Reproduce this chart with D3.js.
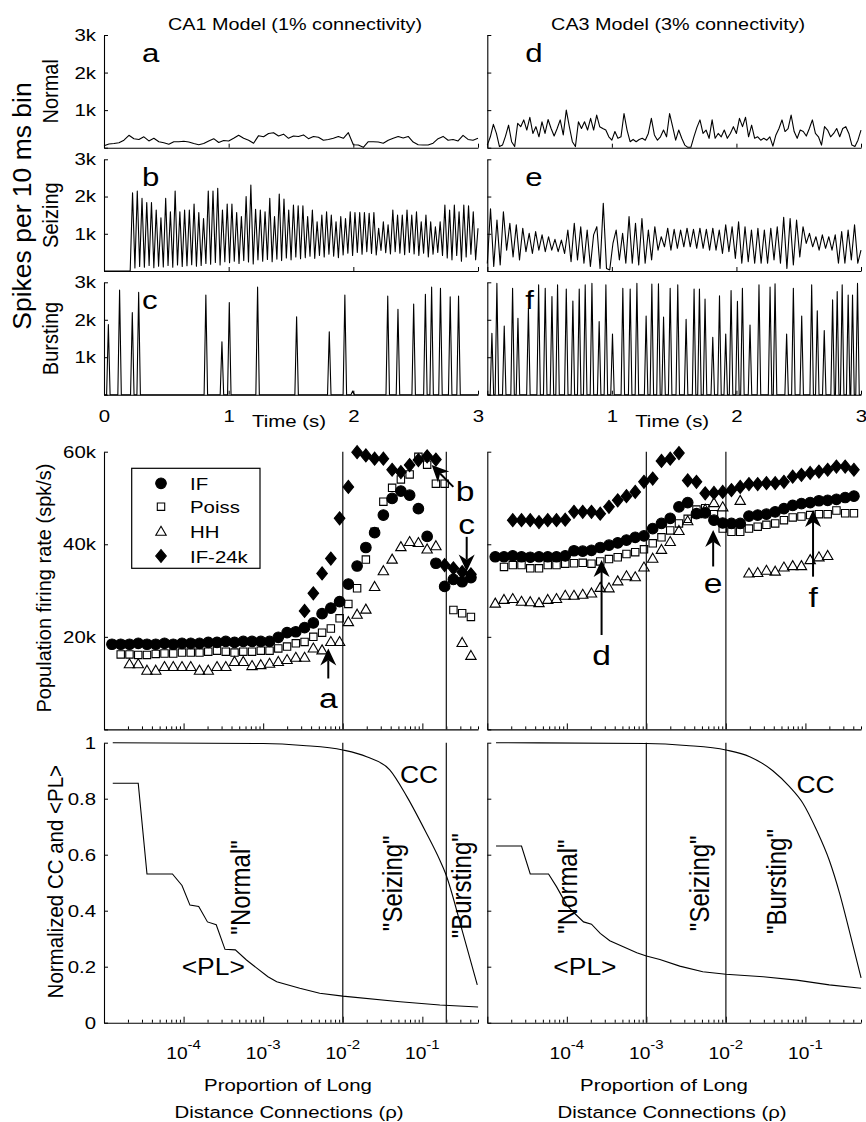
<!DOCTYPE html>
<html>
<head>
<meta charset="utf-8">
<script src="https://cdn.jsdelivr.net/npm/d3@7/dist/d3.min.js"></script>
<style>
  body { margin: 0; background: #fff; }
  svg text { fill: #000; }
</style>
</head>
<body>
<svg id="fig" width="866" height="1122"></svg>
<script>
// ---------- data: spikes per 10 ms bin ----------
// CA1 normal, one value every 40 ms from t = 0
const normalCA1Step = 0.04;
const normalCA1 = [50,100,110,130,200,330,240,220,290,180, 250,160,130,90,160,160,170,150,110,80,
  110,180,240,140,190,180,250,330,250,200, 120,320,290,380,400,310,360,250,310,300,
  340,240,300,280,200,220,250,300,250,400, 80,70,10,160,160,150,120,200,250,300,
  260,300,150,80,70,70,120,240,300,200, 220,180,330,220,200,250];

// CA1 seizing: silent until onset, then alternating peak / trough
const seizingCA1Onset = 0.21;
const seizingCA1Peaks = [2100,2150,1950,1840,1840,1640,1430,1950,1590,2150,
  1590,1640,1640,1800,1570,1410,2150,2150,2220,1640, 1800,1800,1570,1460,2000,2310,1660,1640,1590,1950,
  1460,2070,1930,1640,1770,1750,1750,1460,1640,1320, 1500,1590,1500,1320,1460,1410,1590,1570,1570,1570,
  1550,1570,1150,1320,1240,1640,1500,1500,1640,1500, 1590,1320,1500,1320,1190,1320,1770,1640,1770,1590,
  1770,1750,1590,1150];
const seizingCA1Troughs = [80,120,100,150,90,130,110,150,100,160,120,140,170,130,150,
  200,180,230,160,250,220,260,200,280,240,190,300,260,310,250,
  320,280,350,300,380,330,360,400,340,420,380,450,400,360,430,
  480,420,500,450,520,470,430,550,490,460,520,480,440,500,460,
  420,480,380,450,500,420,350,300,420,260,380,450,300];

// CA1 bursting: [time (s), peak count]
const burstingCA1 = [[0.035,1875],[0.125,2790],[0.227,2190],[0.278,2730],[0.817,2660],[0.946,1410],
  [1.005,2460],[1.232,2870],[1.545,2080],[1.807,1680],[1.932,2660],[1.995,100],[2.276,2630],[2.358,2280],
  [2.484,2420],[2.578,2680],[2.628,2870],[2.699,2840],[2.777,2610],[2.844,2630]];

// CA3 normal / seizing: trace vertices spread evenly over 0-3 s
const normalCA3 = [70,290,620,380,30,70,310,600,160,30, 650,560,740,470,810,380,560,290,690,380,
  750,510,310,510,740,340,1000,560,160,30, 690,510,690,470,780,470,870,560,510,470,
  290,200,430,250,290,910,470,160,220,160, 220,250,200,380,780,340,200,290,470,290,
  910,560,200,470,250,70,10,10,290,540, 740,380,470,250,740,250,380,290,470,250,
  380,560,380,780,560,810,290,600,250,290, 200,250,200,290,40,340,510,740,430,510,
  870,430,250,470,430,310,510,740,380,290, 70,560,470,290,380,510,290,510,560,380, 70,30,200,470];
const seizingCA3 = [200,1670,120,1370,160,1590,560,1280,380,1240, 300,1150,520,1010,470,1060,560,970,520,920,
  560,850,520,830,470,1100,250,1280,300,1190, 210,1100,120,970,1190,70,1820,70,30,740,
  1100,300,1010,210,1460,210,1280,160,1410,210, 1100,300,1190,560,920,650,1150,560,1120,610,
  1100,650,1150,650,1120,610,1150,610,1120,560, 1150,560,1100,470,1240,520,1190,340,1320,210,
  1190,250,1100,210,1150,210,1100,210,1150,300, 1190,210,1440,70,1410,160,1370,380,1190,740,
  1010,650,920,560,970,610,920,560,970,210, 1060,210,1100,300,1240,210,560];
const burstingCA3 = [[0.037,1640],[0.077,2970],[0.136,1830],[0.203,2840],[0.246,2040],[0.33,2300],[0.412,2930],
  [0.465,2840],[0.519,2620],[0.564,2930],[0.634,2820],[0.687,2500],[0.738,2820],[0.786,2930],[0.840,2970],
  [0.898,1950],[0.952,2930],[1.005,1620],[1.088,2840],[1.147,2820],[1.201,2970],[1.275,2100],[1.321,2950],
  [1.374,2960],[1.415,2070],[1.468,2840],[1.529,2930],[1.596,2010],[1.660,2820],[1.703,2820],[1.748,2550],
  [1.810,1530],[1.864,2640],[1.914,1620],[1.957,2780],[2.008,2490],[2.048,2840],[2.109,1860],[2.181,2930],
  [2.270,2870],[2.310,2960],[2.403,1620],[2.457,2840],[2.524,2100],[2.604,2930],[2.649,2240],[2.705,1710],
  [2.772,2530],[2.809,2750],[2.849,2930],[2.897,2660],[2.932,2660],[2.972,2970]];

// ---------- data: population firing rate (k spk/s) vs log10(rho) ----------
const logRho = [-4.90,-4.79,-4.68,-4.57,-4.46,-4.35,-4.24,-4.13,-4.02,-3.91,-3.80,-3.69,-3.58,-3.47,
  -3.36,-3.25,-3.14,-3.03,-2.92,-2.81,-2.70,-2.59,-2.48,-2.37,-2.26,-2.15,-2.04,-1.93,-1.82,-1.71,
  -1.60,-1.49,-1.38,-1.27,-1.16,-1.05,-0.94,-0.83,-0.72,-0.61,-0.50,-0.39];
const _ = null;
const rateIF_CA1 = [18.4,18.4,18.4,18.6,18.4,18.4,18.6,18.4,18.6,18.6, 18.6,18.8,18.8,19.0,18.8,19.0,19.0,19.0,19.0,19.9,
  20.9,21.1,22.0,23.0,25.0,26.2,27.6,31.4,35.3,39.3, 42.5,46.3,49.9,51.5,50.6,47.7,41.7,35.9,30.9,32.4, 31.9,32.8];
const ratePoiss_CA1 = [_,16.2,16.2,16.1,16.1,16.3,16.4,16.4,16.6,16.6, 16.6,16.8,17.0,16.8,16.6,16.8,16.8,17.0,17.0,17.5,
  17.9,18.6,18.9,20.0,20.9,21.8,24.0,27.1,30.5,36.7, 42.7,49.2,52.2,54.0,55.1,58.9,57.2,53.1,53.1,25.8, 25.1,24.3];
const rateHH_CA1 = [_,_,14.1,14.1,12.7,12.7,13.5,13.5,13.5,13.5, 12.7,12.7,13.5,13.5,14.6,14.6,13.7,13.9,14.2,14.6,
  15.0,15.5,15.5,17.5,17.1,18.9,18.9,23.2,24.8,25.9, 30.8,34.2,36.7,39.4,40.5,40.3,38.9,39.6,_,_, 18.7,15.9];
const rateIF24_CA1 = [_,_,_,_,_,_,_,_,_,_, _,_,_,_,_,_,_,_,_,_,
  _,_,25.6,29.4,33.7,36.9,45.6,52.4,59.9,59.2, 58.5,58.5,56.1,55.6,57.1,58.2,59.0,58.3,35.5,34.8, 34.0,33.5];
const rateIF_CA3 = [37.3,37.3,37.5,37.3,37.2,37.3,37.3,37.3,37.5,38.6, 38.5,38.7,39.3,39.8,40.3,40.9,41.5,41.8,43.4,44.5,
  45.6,48.1,49.0,46.6,46.8,45.2,44.6,44.5,44.5,46.1, 46.3,46.5,47.0,47.7,48.4,48.8,49.0,49.4,49.5,49.7, 50.1,50.4];
const ratePoiss_CA3 = [_,35.1,35.5,35.5,34.8,34.8,35.5,35.5,35.8,35.9, 36.0,35.8,36.3,36.8,37.2,37.9,38.3,38.9,40.2,41.5,
  43.0,44.5,45.5,47.5,47.8,46.5,43.4,42.7,42.7,43.4, 43.8,44.2,44.5,45.2,45.8,46.0,46.3,46.5,46.5,47.3, 46.7,46.7];
const rateHH_CA3 = [27.2,28.0,28.2,27.6,27.5,27.3,28.0,28.2,28.9,28.9, 29.1,29.4,30.6,30.5,32.0,33.1,32.9,35.0,36.9,38.8,
  40.5,42.9,45.0,46.5,47.5,48.9,48.0,_,49.4,33.7, 33.8,34.3,34.1,35.0,35.3,35.3,36.6,37.2,37.5,_, _,_];
const rateIF24_CA3 = [_,_,45.2,45.2,45.2,44.8,45.2,45.2,45.3,47.0, 47.0,47.0,46.6,48.1,49.5,50.4,51.3,53.5,54.2,58.0,
  58.5,59.7,53.8,53.5,51.0,51.1,51.3,51.7,52.4,53.0, 53.0,53.2,53.2,53.5,54.6,55.0,55.4,55.7,56.1,56.8, 56.8,56.1];

// ---------- data: normalized CC and <PL>, [log10(rho), value] ----------
const ccCA1 = [[-4.89,1.0],[-3.0,0.997],[-2.5,0.99],[-2.0,0.974],[-1.7,0.95],[-1.41,0.903],[-1.2,0.81],
  [-0.955,0.68],[-0.78,0.58],[-0.71,0.534],[-0.49,0.319],[-0.31,0.135]];
const ccCA3 = [[-4.89,1.0],[-3.0,0.997],[-2.5,0.99],[-2.0,0.974],[-1.7,0.95],[-1.41,0.90],[-1.2,0.843],
  [-1.03,0.783],[-0.86,0.688],[-0.7,0.58],[-0.57,0.462],[-0.44,0.319],[-0.30,0.16]];
const plCA1 = [[-4.89,0.855],[-4.57,0.855],[-4.46,0.531],[-4.14,0.531],[-4.02,0.49],[-3.92,0.42],[-3.81,0.415],
  [-3.70,0.36],[-3.59,0.35],[-3.48,0.262],[-3.35,0.26],[-3.21,0.224],[-3.08,0.195],[-2.94,0.164],[-2.83,0.146],
  [-2.54,0.123],[-2.29,0.105],[-2.0,0.095],[-1.28,0.075],[-0.78,0.063],[-0.30,0.056]];
const plCA3 = [[-4.89,0.631],[-4.57,0.631],[-4.46,0.531],[-4.23,0.531],[-4.13,0.486],[-4.0,0.42],[-3.90,0.39],
  [-3.79,0.36],[-3.69,0.352],[-3.58,0.319],[-3.46,0.293],[-3.29,0.271],[-3.12,0.25],[-3.0,0.238],[-2.83,0.226],
  [-2.58,0.202],[-2.29,0.182],[-2.0,0.173],[-1.53,0.164],[-1.11,0.152],[-0.70,0.135],[-0.30,0.123]];

// regime boundaries (rho)
const boundsCA1 = [1e-2, 0.2];
const boundsCA3 = [1e-3, 1e-2];

const colTitles = ["CA1 Model (1% connectivity)", "CA3 Model (3% connectivity)"];
const rowLabels = ["Normal", "Seizing", "Bursting"];
const letters = [["a", "b", "c"], ["d", "e", "f"]];
const legendNames = ["IF", "Poiss", "HH", "IF-24k"];

// ---------- layout ----------
const FONT = '"Liberation Sans", Arial, Helvetica, sans-serif';
const SX = 1.2;   // the figure is stretched horizontally
const cols = [{ x0: 104, x1: 478 }, { x0: 487.3, x1: 861 }];
const topRows = [{ y0: 35, y1: 147.7 }, { y0: 159.3, y1: 271 }, { y0: 282.3, y1: 394.7 }];
const mid = { y0: 451.7, y1: 729.4 };
const bot = { y0: 742.7, y1: 1022.7 };

const svg = d3.select("#fig").attr("font-family", FONT);

function addText(x, y, s, o = {}) {
  const t = svg.append("text")
    .attr("transform", `translate(${x},${y}) scale(${o.sx || SX},1)` + (o.rotate ? " rotate(-90)" : ""))
    .attr("text-anchor", o.anchor || "middle")
    .attr("font-size", o.size || 17)
    .text(s);
  return t;
}

function styleAxis(g) {
  g.attr("font-family", FONT).attr("font-size", 17);
  g.select(".domain").attr("stroke-width", 1.1);
  g.selectAll(".tick line").attr("stroke-width", 1);
  g.selectAll(".tick text").each(function () {
    const t = d3.select(this);
    const xv = +t.attr("x") || 0;
    t.attr("x", xv / SX).attr("transform", `scale(${SX},1)`);
  });
}

// ---------- top: time series ----------
function spikesToSeries(peaks) {
  const pts = [[0, 0]];
  peaks.forEach(([t, v]) => { pts.push([t - 0.014, 0], [t, v], [t + 0.014, 0]); });
  pts.push([3, 0]);
  return pts;
}
function evenSeries(vals) {
  return vals.map((v, i) => [3 * i / (vals.length - 1), v]);
}
const seizingCA1Step = (3 - seizingCA1Onset) / (2 * seizingCA1Peaks.length - 1);
const seizingCA1Series = [[0, 0], [seizingCA1Onset, 0]];
seizingCA1Peaks.forEach((p, i) => {
  seizingCA1Series.push([seizingCA1Onset + (2 * i + 1) * seizingCA1Step, p]);
  if (i < seizingCA1Troughs.length)
    seizingCA1Series.push([seizingCA1Onset + (2 * i + 2) * seizingCA1Step, seizingCA1Troughs[i]]);
});

const traces = [
  [normalCA1.map((v, i) => [i * normalCA1Step, v]), seizingCA1Series, spikesToSeries(burstingCA1)],
  [evenSeries(normalCA3), evenSeries(seizingCA3), spikesToSeries(burstingCA3)]
];

cols.forEach((c, ci) => {
  const x = d3.scaleLinear().domain([0, 3]).range([c.x0, c.x1]);
  topRows.forEach((r, ri) => {
    const y = d3.scaleLinear().domain([0, 3000]).range([r.y1, r.y0]);
    styleAxis(svg.append("g").attr("transform", `translate(${c.x0},0)`)
      .call(d3.axisLeft(y).tickValues([0, 1000, 2000, 3000]).tickSize(-4).tickSizeOuter(0).tickPadding(8)
        .tickFormat(d => (ci === 0 && d > 0) ? (d / 1000) + "k" : "")));
    styleAxis(svg.append("g").attr("transform", `translate(0,${r.y1})`)
      .call(d3.axisBottom(x).tickValues([0, 1, 2, 3]).tickSize(-4).tickSizeOuter(0).tickPadding(15)
        .tickFormat(d => (ri === 2 && !(ci === 1 && d === 0)) ? d : "")));
    svg.append("path").datum(traces[ci][ri])
      .attr("fill", "none").attr("stroke", "#000").attr("stroke-width", 1.1).attr("stroke-linejoin", "round")
      .attr("d", d3.line().x(d => x(d[0])).y(d => y(d[1])));
    addText(c.x0 + 38, r.y0 + 27, letters[ci][ri], { anchor: "start", size: 26 });
  });
  addText((c.x0 + c.x1) / 2 + 4, 30, colTitles[ci], { size: 16.5 });
  addText(x(1.5) - 2, 427, "Time (s)", { size: 17 });
});
topRows.forEach((r, ri) => addText(58.3, (r.y0 + r.y1) / 2, rowLabels[ri], { rotate: true, size: 20, sx: 1.1 }));
addText(31, 206, "Spikes per 10 ms bin", { rotate: true, size: 26.5, sx: 1.0 });

// ---------- log-axis helpers ----------
const logTicks = [];
for (let e = -5; e <= -1; e++) for (let k = 1; k <= 9; k++) { const v = k * Math.pow(10, e); if (v <= 0.5 + 1e-12) logTicks.push(v); }
const isDecade = v => Math.abs(Math.log10(v) - Math.round(Math.log10(v))) < 1e-9;

function rhoAxis(x, yPos) {
  const g = svg.append("g").attr("transform", `translate(0,${yPos})`)
    .call(d3.axisBottom(x).tickValues(logTicks).tickSize(-3).tickSizeOuter(0).tickFormat(""));
  styleAxis(g);
  g.selectAll(".tick line").filter(d => isDecade(d)).attr("y2", -6);
}

// ---------- marker shapes ----------
const shapes = {
  IF: "M5.3,0A5.3,5.3,0,1,1,-5.3,0A5.3,5.3,0,1,1,5.3,0Z",
  Poiss: "M-3.7,-3.7H3.7V3.7H-3.7Z",
  HH: "M0,-5.4L5.2,3.6L-5.2,3.6Z",
  "IF-24k": "M0,-6.5L5.3,0L0,6.5L-5.3,0Z"
};
const filled = { IF: true, Poiss: false, HH: false, "IF-24k": true };

function arrow(x1, y1, x2, y2) {
  const L = 17, W = 8;
  const dx = x2 - x1, dy = y2 - y1, len = Math.hypot(dx, dy);
  const ux = dx / len, uy = dy / len, px = -uy, py = ux;
  const bx = x2 - ux * L, by = y2 - uy * L, nx = x2 - ux * L * 0.7, ny = y2 - uy * L * 0.7;
  svg.append("line").attr("x1", x1).attr("y1", y1).attr("x2", nx).attr("y2", ny)
    .attr("stroke", "#000").attr("stroke-width", 2);
  svg.append("path").attr("fill", "#000")
    .attr("d", `M${x2},${y2}L${bx + px * W},${by + py * W}L${nx},${ny}L${bx - px * W},${by - py * W}Z`);
}

// ---------- middle: firing rate ----------
const rateSets = [
  [rateIF_CA1, ratePoiss_CA1, rateHH_CA1, rateIF24_CA1],
  [rateIF_CA3, ratePoiss_CA3, rateHH_CA3, rateIF24_CA3]
];
const bounds = [boundsCA1, boundsCA3];
// arrow annotations in data units: [log10 rho, rate]
const arrowsCA1 = [
  { label: "a", tail: [-2.182, 11.0], tip: [-2.182, 17.5], text: [-2.182, 4.6] },
  { label: "b", tail: [-0.611, 52.4], tip: [-0.883, 57.1], text: [-0.464, 49.4] },
  { label: "c", tail: [-0.443, 41.6], tip: [-0.443, 34.1], text: [-0.443, 42.2] }
];
const arrowsCA3 = [
  { label: "d", tail: [-3.563, 20.4], tip: [-3.563, 36.6], text: [-3.563, 13.9] },
  { label: "e", tail: [-2.160, 35.2], tip: [-2.160, 43.1], text: [-2.160, 29.5] },
  { label: "f", tail: [-0.904, 33.0], tip: [-0.904, 47.4], text: [-0.904, 26.5] }
];
const arrowSets = [arrowsCA1, arrowsCA3];

cols.forEach((c, ci) => {
  const x = d3.scaleLog().domain([1e-5, 0.5]).range([c.x0, c.x1]);
  const y = d3.scaleLinear().domain([0, 60]).range([mid.y1, mid.y0]);
  styleAxis(svg.append("g").attr("transform", `translate(${c.x0},0)`)
    .call(d3.axisLeft(y).tickValues([0, 20, 40, 60]).tickSize(-4).tickSizeOuter(0).tickPadding(8)
      .tickFormat(d => (ci === 0 && d > 0) ? d + "k" : "")));
  rhoAxis(x, mid.y1);
  bounds[ci].forEach(b => svg.append("line").attr("x1", x(b)).attr("x2", x(b))
    .attr("y1", mid.y0).attr("y2", mid.y1).attr("stroke", "#222").attr("stroke-width", 1.3));

  legendNames.forEach((name, si) => {
    const vals = rateSets[ci][si];
    svg.append("g").selectAll("path")
      .data(logRho.map((lr, i) => [lr, vals[i]]).filter(d => d[1] !== null))
      .join("path")
      .attr("transform", d => `translate(${x(Math.pow(10, d[0]))},${y(d[1])})`)
      .attr("d", shapes[name])
      .attr("fill", filled[name] ? "#000" : "none")
      .attr("stroke", "#000").attr("stroke-width", 1.1);
  });

  arrowSets[ci].forEach(a => {
    arrow(x(Math.pow(10, a.tail[0])), y(a.tail[1]), x(Math.pow(10, a.tip[0])), y(a.tip[1]));
    addText(x(Math.pow(10, a.text[0])), y(a.text[1]), a.label, { size: 28 });
  });
});
addText(51, 588, "Population firing rate (spk/s)", { rotate: true, size: 20, sx: 1.0 });

// legend
svg.append("rect").attr("x", 131.7).attr("y", 468.3).attr("width", 128.3).attr("height", 100)
  .attr("fill", "#fff").attr("stroke", "#000").attr("stroke-width", 1.2);
const legendRows = [483.3, 506.7, 531.7, 556];
legendNames.forEach((name, i) => {
  svg.append("path").attr("transform", `translate(161,${legendRows[i]})`).attr("d", shapes[name])
    .attr("fill", filled[name] ? "#000" : "none").attr("stroke", "#000").attr("stroke-width", 1.1);
  addText(190, legendRows[i] + 6.5, name, { anchor: "start", size: 17 });
});

// ---------- bottom: CC and <PL> ----------
const ccSets = [ccCA1, ccCA3];
const plSets = [plCA1, plCA3];
const regimeText = [
  [["\"Normal\"", -3.166, 0.483], ["\"Seizing\"", -1.25, 0.498], ["\"Bursting\"", -0.389, 0.489]],
  [["\"Normal\"", -3.877, 0.486], ["\"Seizing\"", -2.214, 0.498], ["\"Bursting\"", -1.247, 0.504]]
];
const curveText = [
  [["CC", -1.042, 0.855], ["<PL>", -3.627, 0.170]],
  [["CC", -0.873, 0.819], ["<PL>", -3.772, 0.170]]
];
const xLabelCenters = [[288, 289], [664, 672]];

cols.forEach((c, ci) => {
  const x = d3.scaleLog().domain([1e-5, 0.5]).range([c.x0, c.x1]);
  const y = d3.scaleLinear().domain([0, 1]).range([bot.y1, bot.y0]);
  styleAxis(svg.append("g").attr("transform", `translate(${c.x0},0)`)
    .call(d3.axisLeft(y).tickValues([0, 0.2, 0.4, 0.6, 0.8, 1]).tickSize(-4).tickSizeOuter(0).tickPadding(8)
      .tickFormat(d => ci === 0 ? d3.format("~g")(d) : "")));
  rhoAxis(x, bot.y1);
  bounds[ci].forEach(b => svg.append("line").attr("x1", x(b)).attr("x2", x(b))
    .attr("y1", bot.y0).attr("y2", bot.y1).attr("stroke", "#222").attr("stroke-width", 1.3));

  svg.append("path").datum(ccSets[ci]).attr("fill", "none").attr("stroke", "#000").attr("stroke-width", 1.1)
    .attr("d", d3.line().curve(d3.curveMonotoneX).x(d => x(Math.pow(10, d[0]))).y(d => y(d[1])));
  svg.append("path").datum(plSets[ci]).attr("fill", "none").attr("stroke", "#000").attr("stroke-width", 1.1)
    .attr("d", d3.line().x(d => x(Math.pow(10, d[0]))).y(d => y(d[1])));

  regimeText[ci].forEach(([s, lr, v]) => addText(x(Math.pow(10, lr)), y(v), s, { rotate: true, size: 24, sx: 1.15 }));
  curveText[ci].forEach(([s, lr, v]) => addText(x(Math.pow(10, lr)), y(v), s, { size: 23, sx: 1.15 }));

  [-4, -3, -2, -1].forEach(e => {
    const t = svg.append("text").attr("transform", `translate(${x(Math.pow(10, e))},1059) scale(${SX},1)`)
      .attr("text-anchor", "middle").attr("font-size", 16);
    t.append("tspan").text("10");
    t.append("tspan").attr("dy", -10).attr("font-size", 12.5).text(e);
  });
  addText(xLabelCenters[ci][0], 1091, "Proportion of Long", { size: 17 });
  addText(xLabelCenters[ci][1], 1118, "Distance Connections (\u03c1)", { size: 17 });
});
addText(63.3, 881.7, "Normalized CC and <PL>", { rotate: true, size: 20.5, sx: 1.1 });
</script>
</body>
</html>
